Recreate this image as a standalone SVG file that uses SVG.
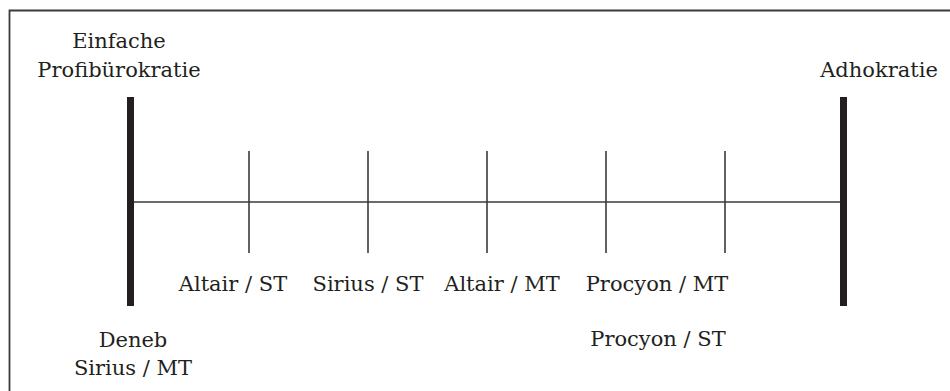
<svg xmlns="http://www.w3.org/2000/svg" width="950" height="391" viewBox="0 0 950 391">
<style>
.lbl{font-family:"DejaVu Serif","Liberation Serif",serif;font-size:21px;fill:#231f20;text-anchor:middle}
.bar{fill:#231f20}
.thin{stroke:#3a3a3a;stroke-width:1.6;fill:none}
.frame{stroke:#3a3a3a;stroke-width:1.8;fill:none}
</style>
<rect width="950" height="391" fill="#fff"/>
<path class="frame" d="M9.5,392 V10.5 H951"/>
<g id="connectors">
<line class="thin" x1="134" y1="202" x2="840" y2="202"/>
<line class="thin" x1="249" y1="151" x2="249" y2="253"/>
<line class="thin" x1="368" y1="151" x2="368" y2="253"/>
<line class="thin" x1="487" y1="151" x2="487" y2="253"/>
<line class="thin" x1="606" y1="151" x2="606" y2="253"/>
<line class="thin" x1="725" y1="151" x2="725" y2="253"/>
</g>
<g id="pole-left">
<rect class="bar" x="127" y="97" width="7" height="209"/>
<text class="lbl" x="119" y="48">Einfache</text>
<text class="lbl" x="119" y="77">Profibürokratie</text>
</g>
<g id="pole-right">
<rect class="bar" x="840" y="97" width="7" height="209"/>
<text class="lbl" x="879" y="77">Adhokratie</text>
</g>
<g id="deneb-sirius-mt">
<text class="lbl" x="133" y="347">Deneb</text>
<text class="lbl" x="133" y="375">Sirius / MT</text>
</g>
<g id="altair-st"><text class="lbl" x="233" y="291">Altair / ST</text></g>
<g id="sirius-st"><text class="lbl" x="368" y="291">Sirius / ST</text></g>
<g id="altair-mt"><text class="lbl" x="502" y="291">Altair / MT</text></g>
<g id="procyon-mt"><text class="lbl" x="657" y="291">Procyon / MT</text></g>
<g id="procyon-st"><text class="lbl" x="658" y="346">Procyon / ST</text></g>
</svg>
